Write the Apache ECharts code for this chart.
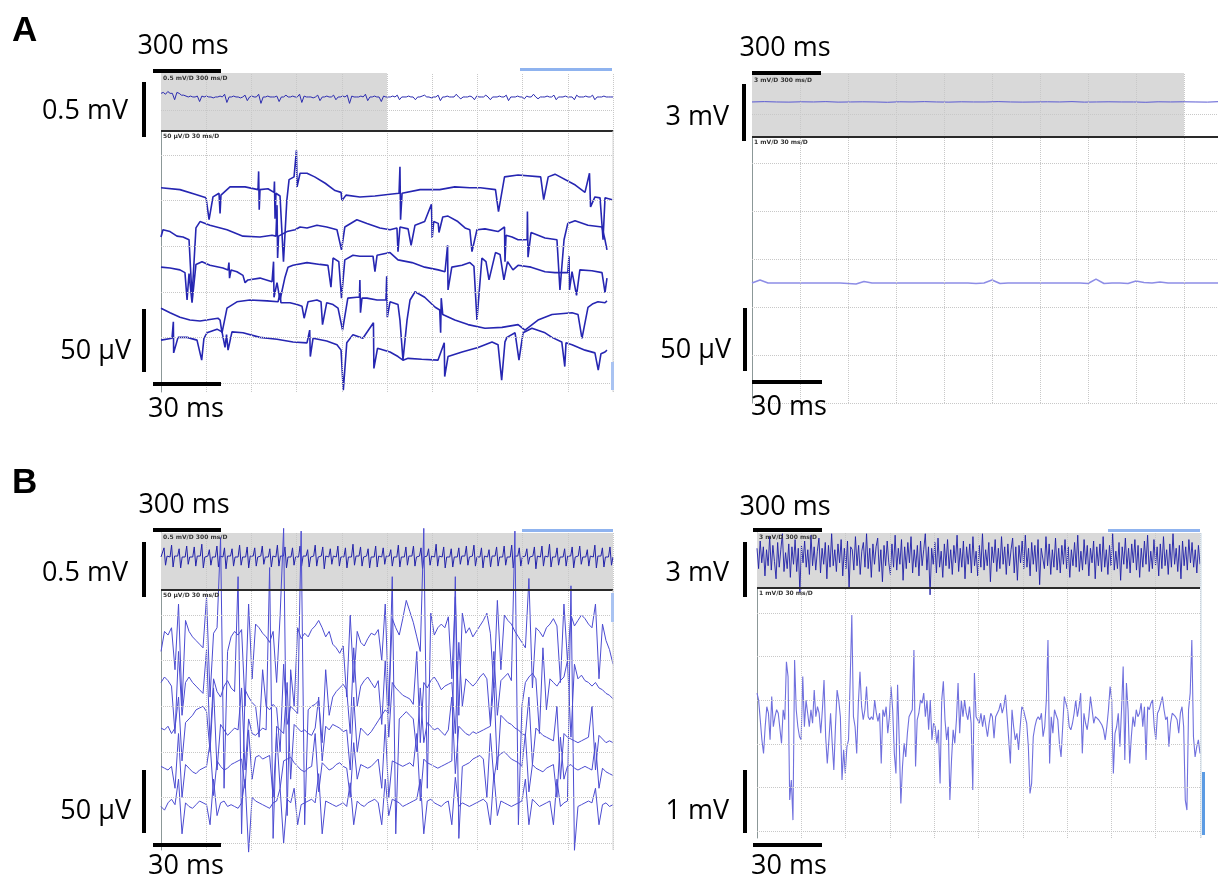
<!DOCTYPE html>
<html>
<head>
<meta charset="utf-8">
<script src="https://cdn.jsdelivr.net/npm/echarts@6/dist/echarts.min.js"></script>
<style>
html,body{margin:0;padding:0;background:#fff}
#fig{width:1218px;height:881px}
</style>
</head>
<body>
<div id="fig"></div>
<script>
// tick values (ms and µV / mV) used for the dotted screen grid
var stripMs = [300,600,900,1200,1500,1800,2100,2400,2700,3000];
var sweepMs = [30,60,90,120,150,180,210,240,270,300];
var uvTicks = [0,50,100,150,200,250];
var mvTicks = [0,1,2,3,4,5];

// A, left: overview strip (mV, evenly sampled over 3000 ms)
var stripAL = [0.04,0.05,0.03,0.06,0.04,0.04,-0.03,0.05,0.04,0.02,
0.02,0.01,0.0,0.01,0.0,0.0,0.01,-0.05,0.01,0.0,
0.01,0.0,0.0,-0.01,0.0,0.0,0.01,0.0,0.03,-0.06,
0.0,0.0,0.01,0.0,0.0,-0.01,0.0,0.02,-0.04,0.0,
0.01,0.0,0.0,0.03,-0.07,0.0,0.0,0.01,0.0,0.0,
0.0,0.01,-0.05,0.0,0.0,0.02,0.0,0.0,0.01,0.0,
0.0,0.03,-0.06,0.01,0.0,0.0,0.0,-0.01,0.0,0.02,
-0.04,0.0,0.0,0.01,0.0,0.0,0.02,-0.03,0.0,0.0,
0.01,0.0,0.02,-0.07,0.01,0.0,0.0,0.0,0.01,0.0,
0.03,-0.04,0.0,0.0,0.01,0.0,0.0,-0.05,0.01,0.0,
0.0,0.0,0.01,0.0,0.02,-0.03,0.0,0.0,0.0,0.01,
0.0,0.0,-0.03,0.0,0.0,0.01,0.02,0.0,0.0,-0.01,
0.0,0.0,0.02,-0.04,0.0,0.0,0.01,0.0,0.0,0.0,
0.03,0.0,-0.02,0.0,0.0,0.0,0.01,0.0,-0.03,0.01,
0.0,0.0,0.0,0.02,0.0,-0.03,0.0,0.0,0.0,0.01,
0.0,0.0,0.02,-0.04,0.0,0.0,0.0,0.01,0.0,0.0,
-0.02,0.01,0.0,0.0,0.03,0.0,-0.02,0.0,0.0,0.0,
0.01,0.0,0.0,0.02,-0.03,0.0,0.0,0.0,0.01,0.0,
0.0,0.0,-0.03,0.02,0.0,0.0,0.0,0.01,0.0,0.0,
0.02,-0.03,0.0,0.0,0.0,0.01,0.0,0.0,0.0,0.0];

// A, left: five stacked sweeps, [ms, µV]
var sweepA1 = [[0,214],[12.6,212],[22.6,207],[29.9,203],[31.9,179],[34.5,204],[38.5,208],[39.2,186],[39.8,206],[45.8,215],[55.8,215],[64.4,212],[64.8,232],[65.2,190],[65.7,212],[71,213],[75,209],[75.3,221],[75.7,180],[76.3,208],[79,205],[81.3,133],[83.5,200],[85,223],[88.3,226],[89.6,227],[89.9,255],[90.3,215],[92.3,230],[96.9,230],[102,226],[109,219],[115.5,211],[119.5,209],[120.1,200],[122.8,206],[132,204],[142,205],[152,207],[158,208],[158.6,237],[159,179],[160,208],[172,212],[185,212],[195,215],[205,214],[212,214],[222,212],[224,188],[228,226],[237,228],[252,226],[254,201],[257,226],[261.5,229],[275,217],[281.4,209],[284.4,230],[285.1,193],[288,204],[291.4,203],[293.4,157],[294.7,203],[299.5,201]];
var sweepA2 = [[0,160],[1.3,168],[6,166],[10.6,161],[14.6,160],[18.6,157],[20.6,94],[23.2,170],[25.9,177],[32.5,173],[43.8,168],[54.4,161],[65.7,160],[73.7,162],[76.3,161],[77,195],[77.4,137],[78,161],[83.6,166],[89,168],[92.3,171],[96.9,170],[103.5,173],[110,171],[116.8,168],[119.8,146],[122,171],[130,179],[136.7,175],[145.3,170],[152,168],[156.6,170],[157.3,144],[158.6,171],[164,169],[166,151],[168.6,173],[175,177],[179.5,196],[180,159],[181,177],[184,175],[184.5,165],[187,182],[190.5,183],[197,177],[201.8,170],[205,168],[206.4,144],[209.7,168],[215,169],[223.7,166],[228,171],[228.3,133],[229,162],[233,160],[237,157],[243,157],[243.2,188],[243.6,138],[245.6,165],[254.9,159],[262.8,157],[264.8,102],[267.5,157],[270,175],[274.8,178],[283.4,173],[292.7,171],[294.7,157],[296,146]];
var sweepA3 = [[0,127],[6,126],[12.6,124],[15.9,121],[17.3,91],[18.6,120],[20.6,88],[23.2,130],[27.2,133],[32.5,129],[41.1,126],[44.5,124],[45.1,132],[45.5,115],[46.5,124],[50.4,122],[54.4,118],[55.8,110],[57.7,113],[65.7,115],[73.7,111],[74.7,133],[75,94],[77,110],[79,91],[82.3,116],[84.3,127],[87.6,129],[96.9,132],[105.5,130],[110.8,129],[112.8,105],[114.2,137],[118,133],[119.8,93],[122,135],[127.4,140],[132,139],[140.7,139],[142,122],[143.4,140],[152,143],[157.3,135],[166.6,132],[175,127],[184,124],[188.5,122],[190.2,151],[190.5,102],[193,127],[199.8,129],[205,132],[207.7,128],[209.7,69],[213,137],[215.7,133],[217.7,113],[222,143],[225,141],[227.6,113],[230,133],[233.6,124],[237,129],[245.6,127],[254.9,122],[261.5,121],[270,121],[270.8,139],[271.1,102],[272.8,122],[275.8,96],[278,124],[286,123],[292.7,121],[294.7,99],[296,115]];
var sweepA4 = [[0,82],[6,77],[12.6,72],[19.2,69],[25.9,68],[37.8,71],[39.2,69],[40.5,55],[43.8,82],[50.4,89],[59,91],[70.4,90],[77.7,89],[79,99],[79.6,88],[85.6,88],[90.3,86],[93.6,84],[95,71],[97.6,89],[103.5,91],[106.2,89],[107.2,64],[110,88],[114.2,86],[117.5,82],[120.5,58],[124,93],[130,94],[131.7,94],[132,113],[132.4,77],[133.4,93],[136.7,93],[143.4,91],[149.3,91],[149.8,117],[150.2,72],[152,89],[157.3,86],[158.6,69],[160.6,25],[163.3,69],[165.3,91],[168.6,100],[175,94],[182,83],[185,80],[185.6,55],[186,93],[187,75],[195,69],[203.8,64],[215,60],[226.3,61],[237,64],[241.6,58],[250.2,69],[259.5,75],[272.8,77],[276.8,75],[279.4,49],[283.4,83],[286.7,87],[290,89],[294.7,88],[296,90]];
var sweepA5 = [[0,47],[7.3,49],[8.2,67],[8.4,33],[11.3,50],[17.3,50],[23.9,47],[25.2,45],[27,25],[28.5,49],[30.5,55],[37.2,59],[40.5,56],[42.5,39],[43.5,53],[44.5,36],[47.1,56],[54.4,55],[65.7,50],[77,48],[87.6,45],[96.9,44],[98.7,58],[99.1,29],[100.9,49],[110,46],[116.8,42],[119.5,36],[121,-8],[123.3,44],[127.4,53],[134,49],[141,66],[141.3,16],[143.7,38],[152,34],[157.3,29],[160.6,25],[164,27],[173,26],[183.8,25],[188,44],[188.3,7],[190.5,29],[199.8,34],[210.4,39],[219.7,45],[223.7,42],[226.1,3],[228.3,45],[229.6,50],[235,55],[237.6,25],[240.3,55],[246.2,60],[254.9,55],[259.5,50],[266,45],[268,18],[268.8,44],[272.8,42],[281.4,36],[288,33],[290.2,14],[292,32],[294.7,34],[296,36]];

// A, right: nearly flat strip (mV) and sweep (mV, every 5 ms)
var stripAR = [0,0.02,0,-0.01,0.01,0,0.02,-0.01,0,0.01,
0,-0.02,0.01,0,0.02,0,-0.01,0.01,0,0,
0.02,0,-0.01,0,0.01,0,0.02,-0.01,0,0.01,
0,0,-0.02,0.01,0,0.01,0,-0.01,0.02,0];
var sweepAR = [2.5,2.56,2.5,2.5,2.5,2.5,2.5,2.5,2.5,2.5,
2.5,2.5,2.49,2.48,2.53,2.5,2.5,2.5,2.5,2.5,
2.5,2.5,2.5,2.5,2.5,2.5,2.5,2.5,2.49,2.5,
2.56,2.49,2.5,2.5,2.5,2.5,2.5,2.5,2.5,2.5,
2.5,2.5,2.49,2.58,2.49,2.5,2.5,2.49,2.54,2.51,
2.5,2.52,2.5,2.5,2.5,2.5,2.5,2.5,2.5,2.5,2.5];

// B, left: strip (mV) and five sweeps (µV), evenly sampled
var stripBL = [0,0.01,0.1,-0.09,0.01,0,0,0.13,-0.11,0.01,
0,0.01,0.09,-0.12,0,0.01,0,0.12,-0.08,0,
0.01,0,0.11,-0.1,0.01,0,0.01,0.14,-0.12,0,
0,0.01,0.08,-0.09,0,0.01,0,0.12,-0.11,0.01,
0,0,0.1,-0.13,0.01,0,0.01,0.09,-0.1,0,
0.01,0,0.13,-0.09,0,0.01,0,0.11,-0.12,0.01,
0,0.01,0.1,-0.1,0,0,0.01,0.12,-0.08,0,
0.01,0,0.09,-0.11,0.01,0,0,0.13,-0.1,0.01,
0,0.01,0.11,-0.12,0,0.01,0,0.1,-0.09,0,
0.01,0,0.12,-0.1,0.01,0,0.01,0.08,-0.11,0,
0,0.01,0.13,-0.1,0,0,0.01,0.11,-0.13,0.01,
0,0,0.09,-0.08,0.01,0,0,0.12,-0.1,0,
0.01,0,0.1,-0.12,0,0.01,0,0.14,-0.09,0.01,
0,0.01,0.11,-0.1,0,0,0.01,0.09,-0.12,0,
0.01,0,0.12,-0.11,0.01,0,0,0.1,-0.08,0.01,
0,0.01,0.08,-0.1,0,0.01,0,0.13,-0.11,0,
0.01,0,0.11,-0.09,0.01,0,0.01,0.12,-0.1,0,
0,0.01,0.1,-0.13,0,0,0.01,0.09,-0.09,0.01,
0,0,0.14,-0.1,0.01,0,0,0.11,-0.12,0,
0.01,0,0.09,-0.11,0,0.01,0,0.1,-0.08,0.01,
0,0.01,0.12,-0.09,0,0,0.01,0.13,-0.1,0,
0.01,0,0.1,-0.12,0.01,0,0,0.08,-0.11,0.01,
0,0.01,0.11,-0.1,0,0.01,0,0.12,-0.09,0,
0.01,0,0.13,-0.12,0.01,0,0.01,0.1,-0.1,0,
0,0.01,0.09,-0.08,0,0,0.01,0.11,-0.13,0.01,
0,0,0.12,-0.1,0.01,0,0,0.14,-0.11,0,
0.01,0,0.1,-0.09,0,0.01,0,0.09,-0.1,0.01,
0,0.01,0.11,-0.12,0,0,0.01,0.12,-0.08,0,
0.01,0,0.08,-0.1,0.01,0,0,0.13,-0.12,0.01,
0,0.01,0.1,-0.11,0,0.01,0,0.11,-0.09,0];
var sweepB1 = [210,232,228,236,190,262,150,244,232,226,
222,218,214,270,160,230,236,335,60,210,
226,232,228,234,150,262,180,240,236,230,
226,220,232,176,250,345,30,190,150,236,
224,230,226,234,238,244,236,226,232,218,
214,208,216,160,250,176,232,220,216,224,
230,228,234,200,262,150,246,236,228,246,
266,254,242,226,210,345,60,252,228,236,
240,236,248,180,270,140,252,230,236,226,
232,238,244,252,230,170,266,190,250,244,
240,232,226,220,214,290,170,236,232,226,
236,240,246,238,176,262,200,250,238,244,
250,246,240,236,262,180,240,222,212,196];
var sweepB2 = [176,182,178,172,120,210,140,176,182,176,
172,168,164,212,110,180,166,160,172,178,
170,166,292,10,168,160,154,150,116,190,
150,146,152,148,100,196,130,150,146,142,
342,20,146,150,152,156,110,190,140,160,
166,170,174,168,120,214,150,172,178,182,
176,170,178,130,200,116,176,170,166,162,
160,158,152,210,110,176,170,178,182,176,
168,172,174,176,120,220,150,180,176,172,
176,182,186,180,130,210,140,178,182,186,
178,342,20,150,176,182,186,180,120,214,
146,180,176,172,178,182,200,116,196,180,
184,178,176,172,176,170,168,164,162,158];
var sweepB3 = [126,124,128,120,126,160,90,132,136,140,
146,148,150,144,100,170,80,130,124,118,
122,126,124,170,80,136,120,118,122,126,
124,302,5,128,124,120,176,70,130,126,
122,124,120,118,126,160,90,128,124,130,
128,126,122,124,80,160,100,126,122,118,
122,128,134,140,146,142,292,10,136,140,
144,140,136,100,170,110,132,128,124,126,
122,118,124,160,76,128,124,120,118,122,
120,122,124,126,128,176,80,140,136,132,
130,126,124,120,118,160,86,126,122,118,
116,114,112,150,70,120,116,114,112,110,
112,114,116,150,80,118,114,110,112,110];
var sweepB4 = [84,82,80,84,60,120,50,86,82,78,
76,80,82,84,110,52,90,84,80,82,
86,88,90,92,60,124,70,94,96,92,
94,96,50,120,60,90,92,94,88,84,
80,78,82,84,120,56,88,84,80,82,
86,88,84,82,50,110,70,86,84,82,
84,88,92,60,130,50,90,88,86,84,
86,88,84,120,46,92,88,86,84,82,
84,86,88,90,292,5,84,86,88,92,
94,96,92,50,120,70,94,98,100,96,
92,90,88,84,120,56,86,82,80,78,
82,84,86,50,116,70,84,86,82,80,
82,84,82,80,110,60,82,78,76,74];
var sweepB5 = [40,36,44,48,42,70,10,44,40,38,
42,46,44,42,20,70,30,44,46,40,
42,40,38,44,70,-10,50,46,44,42,
40,38,44,46,60,0,48,44,60,20,
42,44,46,48,44,76,10,46,44,42,
40,42,44,40,66,20,46,42,40,44,
46,48,44,20,70,30,48,46,44,40,
42,44,46,48,70,10,46,48,44,42,
40,44,46,20,72,40,44,42,40,42,
44,46,48,44,20,76,30,46,44,42,
40,42,44,46,70,20,48,44,40,42,
44,46,20,70,40,44,46,282,-8,40,
42,44,46,44,60,20,42,44,40,42];

// B, right: dense strip (mV) and single sweep (mV), evenly sampled
var stripBR = [0.6,-0.8,1.1,-0.4,0.7,-1.3,0.5,-0.6,1.4,-0.9,
0.8,-0.3,-1.5,1.0,-0.7,0.5,1.6,-1.0,0.3,-0.8,
0.9,-1.4,0.7,-0.5,1.2,-1.0,0.6,-2.4,0.8,-0.4,
1.1,-0.7,0.5,-1.2,1.5,-0.6,0.7,-0.9,0.4,1.3,
-1.1,0.6,-0.5,1.0,-1.5,0.8,-0.7,1.6,-0.6,0.5,
-1.0,0.9,-0.4,1.2,-1.3,0.6,-0.8,1.1,-2.1,0.7,
0.5,-0.9,1.4,-0.6,0.8,-1.2,0.4,1.0,-0.7,1.6,
-0.8,0.6,-1.4,0.9,-0.5,0.7,1.3,-1.0,0.5,-1.7,
0.8,-0.6,1.1,-0.4,-1.2,0.9,-0.7,1.5,-0.9,0.6,
-0.5,1.2,-1.6,0.7,-0.8,1.0,-0.4,1.4,-1.1,0.5,
-0.7,0.8,-1.3,1.1,-0.6,0.5,1.6,-0.9,0.7,-2.6,
0.6,-0.5,1.0,-1.1,1.3,-0.7,0.4,-1.4,0.9,-0.6,
1.2,-0.8,0.5,-1.2,0.8,-0.4,1.5,-1.0,0.6,-0.7,
1.1,-1.5,0.7,-0.5,0.9,-1.1,1.4,-0.6,0.4,-1.3,
0.8,-0.7,1.6,-0.9,0.5,-0.6,1.0,-1.7,0.7,-0.4,
1.2,-1.0,0.6,-0.8,1.4,-0.5,0.7,-1.2,0.9,-0.6,
0.5,1.3,-1.1,0.7,-1.6,0.8,-0.4,1.1,-0.8,1.5,
-0.7,0.6,-1.3,1.0,-0.5,0.8,-1.0,1.2,-1.9,0.6,
0.7,-0.8,1.4,-0.6,0.9,-1.2,0.5,-0.7,1.3,-0.9,
0.6,-1.1,0.8,-0.5,1.2,-0.8,0.7,-1.4,0.5,-0.6,
1.0,-0.7,1.5,-1.0,0.4,-0.9,1.2,-0.5,0.8,-1.3,
0.6,-0.4,1.1,-1.5,0.7,-0.6,0.9,-1.0,1.4,-0.7,
0.5,-1.2,0.8,-0.6,1.6,-0.9,0.4,-0.8,1.0,-1.6,
0.7,-0.5,1.3,-0.8,0.6,-1.1,0.9,-0.4,1.2,-0.9,
0.8,-1.4,0.6,-0.7,1.1,-0.5,1.5,-1.0,0.4,-0.8,
1.2,-0.6,0.7,-1.3,0.9,-0.8,1.4,-0.6,0.5,-1.2,
0.9,-0.7,1.6,-0.5,0.6,-1.0,0.8,-1.5,1.1,-0.6,
0.7,-0.9,1.2,-0.4,1.0,-0.7,0.5,-1.1,0.8,-0.5];
var sweepBR = [3.16,3.00,2.55,2.09,1.78,2.39,2.85,2.70,2.09,3.08,2.39,2.62,2.78,2.70,2.66,2.01,2.78,2.55,3.88,3.54,
0.71,1.17,0.25,3.92,2.78,2.39,2.16,2.09,3.54,2.39,3.00,2.70,2.39,2.78,2.47,3.23,2.62,2.85,2.70,2.24,
2.78,3.46,2.16,1.55,2.09,2.70,2.01,1.40,2.39,3.23,3.00,2.62,1.17,1.86,1.32,1.93,2.09,3.46,4.95,2.62,
2.39,1.78,2.93,3.65,2.85,2.55,2.78,3.31,2.62,2.55,2.62,2.55,3.00,2.70,2.51,2.70,1.55,2.78,2.62,2.85,
2.24,2.62,3.31,2.78,1.78,1.32,3.35,2.09,0.63,1.48,2.01,1.70,2.24,2.62,2.70,2.78,4.15,1.48,2.55,2.70,
3.00,2.93,3.16,2.62,3.00,2.32,3.00,2.09,2.47,2.39,2.01,2.32,1.09,3.00,3.43,2.55,2.09,2.39,0.71,1.63,
2.32,2.01,2.55,3.39,2.24,3.00,2.62,3.00,2.70,2.55,2.85,2.47,0.94,3.62,2.62,
2.62,2.47,2.70,2.39,2.66,2.70,2.16,2.47,2.70,2.62,2.13,2.62,2.70,2.78,2.93,2.70,2.85,3.12,2.62,2.09,
1.55,2.78,2.39,2.09,2.24,1.86,2.39,2.85,2.78,2.62,2.47,1.93,0.86,1.09,2.16,2.39,2.55,2.62,2.55,2.70,
2.16,2.39,3.00,4.38,1.55,2.62,2.24,2.78,2.66,2.55,2.01,1.70,2.39,3.08,2.93,2.78,2.39,2.32,2.47,2.70,
3.00,2.62,2.85,3.16,1.78,2.70,2.47,2.32,2.62,3.08,2.78,2.47,2.62,2.62,2.55,2.55,2.43,2.32,2.09,2.39,
2.78,3.31,3.00,1.32,2.24,2.39,2.70,1.93,2.78,3.77,1.63,3.39,2.78,1.55,2.16,2.62,2.39,2.78,2.62,2.70,
2.93,2.39,2.85,1.63,2.85,2.78,2.93,3.00,2.39,2.09,2.70,2.78,2.93,3.08,2.78,2.55,2.62,1.93,2.47,2.70,
2.66,2.62,2.55,2.24,2.70,2.85,2.39,0.71,0.48,2.78,3.16,4.38,2.16,1.70,1.93,2.09,1.78];

// samples -> [time, value] pairs spread over the sweep length
function even(values, span) {
  var dt = span / (values.length - 1);
  return values.map(function (v, i) { return [i * dt, v]; });
}

var myChart = echarts.init(document.getElementById('fig'));

// 0 A strip, 1 A sweeps, 2 A' strip, 3 A' sweep, 4 B strip, 5 B sweeps, 6 B' strip, 7 B' sweep
var boxes = [
  [161, 73, 452, 58], [161, 131, 452, 261],
  [752, 73, 480, 64], [752, 137, 480, 266],
  [161, 533, 452, 57], [161, 590, 452, 260],
  [757, 533, 443, 55], [757, 588, 443, 250]
];
var yRange = [[-0.373, 0.263], [-9.9, 276.3], [-2.19, 1.81], [0, 5.54],
              [-0.362, 0.263], [-7.7, 277.4], [-2.13, 1.65], [-0.16, 5.57]];
var levels = [[-0.15], uvTicks, [-0.75], mvTicks, [], uvTicks, [], mvTicks];

var grids = [], xAxes = [], yAxes = [], series = [];
boxes.forEach(function (b, i) {
  var strip = i % 2 === 0;
  grids.push({left: b[0], top: b[1], width: b[2], height: b[3], outerBoundsMode: 'none', containLabel: false});
  xAxes.push({type: 'value', gridIndex: i, min: 0, max: strip ? 3000 : 300,
    axisLine: {show: false}, axisTick: {show: false}, axisLabel: {show: false}, splitLine: {show: false}});
  yAxes.push({type: 'value', gridIndex: i, min: yRange[i][0], max: yRange[i][1],
    axisLine: {show: true, lineStyle: {color: '#8c9898', width: 1}},
    axisTick: {show: false}, axisLabel: {show: false}, splitLine: {show: false}});
  var xs = strip ? stripMs : sweepMs;
  series.push({
    type: 'line', xAxisIndex: i, yAxisIndex: i, data: [[0, yRange[i][0]]],
    symbol: 'none', lineStyle: {width: 0}, silent: true, z: 2,
    markLine: {
      silent: true, symbol: ['none', 'none'], label: {show: false}, animation: false,
      lineStyle: {type: 'dotted', color: '#c8c8c8', width: 1},
      data: xs.map(function (v) { return {xAxis: v}; })
        .concat(levels[i].map(function (v) { return {yAxis: v}; }))
    }
  });
});

// grey overview windows
[[0, 0, 1500], [2, 0, 2700], [4, 0, 3000], [6, 0, 3000]].forEach(function (s) {
  series.push({
    type: 'line', xAxisIndex: s[0], yAxisIndex: s[0], data: [], z: 1, silent: true,
    markArea: {silent: true, animation: false, itemStyle: {color: '#d9d9d9'},
      data: [[{xAxis: s[1]}, {xAxis: s[2]}]]}
  });
});

function trace(gi, data, color, width) {
  series.push({
    type: 'line', xAxisIndex: gi, yAxisIndex: gi, data: data, symbol: 'none',
    clip: false, silent: true, z: 3, lineStyle: {color: color, width: width}
  });
}

trace(0, even(stripAL, 3000), '#2b2bb0', 1);
[sweepA1, sweepA2, sweepA3, sweepA4, sweepA5].forEach(function (s) { trace(1, s, '#2626b2', 1.6); });
trace(2, even(stripAR, 3000), '#5a5ad2', 1);
trace(3, even(sweepAR, 300), '#8d8de6', 1.6);
trace(4, even(stripBL, 3000), '#2222aa', 1);
[sweepB1, sweepB2, sweepB3, sweepB4, sweepB5].forEach(function (s) { trace(5, even(s, 300), '#4c4cd2', 1); });
trace(6, even(stripBR, 3000), '#1e1ea8', 0.9);
trace(7, even(sweepBR, 300), '#7070de', 1.1);

// scale bars, labels and screen furniture
var g = [];
function bar(x1, y1, x2, y2) {
  g.push({type: 'line', z: 10, shape: {x1: x1, y1: y1, x2: x2, y2: y2}, style: {stroke: '#000', lineWidth: 4}});
}
function rule(x1, y1, x2, y2, c, w) {
  g.push({type: 'line', z: 9, shape: {x1: x1, y1: y1, x2: x2, y2: y2}, style: {stroke: c, lineWidth: w}});
}
function label(x, y, t, align) {
  g.push({type: 'text', z: 10, x: x, y: y, style: {text: t, fill: '#000', fontSize: 27,
    fontFamily: 'Open Sans', align: align, verticalAlign: 'middle'}});
}
function tiny(x, y, t) {
  g.push({type: 'text', z: 10, x: x, y: y, style: {text: t, fill: '#333', fontSize: 6,
    fontWeight: 'bold', fontFamily: 'DejaVu Sans', verticalAlign: 'middle'}});
}
function patch(x, y, w, h, c) {
  g.push({type: 'rect', z: 9, shape: {x: x, y: y, width: w, height: h}, style: {fill: c}});
}

g.push({type: 'text', z: 10, x: 12, y: 31, style: {text: 'A', fill: '#000', fontSize: 35, fontWeight: 'bold',
  fontFamily: 'Liberation Sans', verticalAlign: 'middle'}});
g.push({type: 'text', z: 10, x: 12, y: 483, style: {text: 'B', fill: '#000', fontSize: 35, fontWeight: 'bold',
  fontFamily: 'Liberation Sans', verticalAlign: 'middle'}});

// A left
label(183, 46, '300 ms', 'center'); bar(153, 71, 221, 71);
label(128, 111, '0.5 mV', 'right'); bar(144, 82, 144, 137);
label(131, 351, '50 µV', 'right'); bar(144, 309, 144, 372);
label(186, 409, '30 ms', 'center'); bar(153, 384, 221, 384);
rule(161, 131, 613, 131, '#2a2a2a', 2); rule(613, 131, 613, 392, '#d4d4d4', 1);
patch(520, 68, 92, 3, '#8fb3ef'); patch(611, 362, 3, 28, '#a9c3f2');
tiny(163, 78, '0.5 mV/D 300 ms/D'); tiny(163, 136, '50 µV/D 30 ms/D');

// A right
label(785, 48, '300 ms', 'center'); bar(752, 73, 821, 73);
label(729, 117, '3 mV', 'right'); bar(744, 84, 744, 141);
label(731, 350, '50 µV', 'right'); bar(745, 308, 745, 371);
label(789, 407, '30 ms', 'center'); bar(752, 382, 822, 382);
rule(752, 137, 1218, 137, '#2a2a2a', 2);
tiny(754, 80, '3 mV/D 300 ms/D'); tiny(754, 142, '1 mV/D 30 ms/D');

// B left
label(184, 505, '300 ms', 'center'); bar(153, 530, 221, 530);
label(128, 573, '0.5 mV', 'right'); bar(144, 542, 144, 597);
label(131, 811, '50 µV', 'right'); bar(144, 770, 144, 833);
label(186, 866, '30 ms', 'center'); bar(153, 845, 221, 845);
rule(161, 590, 613, 590, '#2a2a2a', 2); rule(613, 590, 613, 850, '#d4d4d4', 1);
patch(522, 529, 91, 3, '#8fb3ef'); patch(611, 593, 3, 29, '#a9c3f2');
tiny(163, 537, '0.5 mV/D 300 ms/D'); tiny(163, 595, '50 µV/D 30 ms/D');

// B right
label(785, 507, '300 ms', 'center'); bar(753, 530, 822, 530);
label(729, 573, '3 mV', 'right'); bar(745, 542, 745, 597);
label(729, 811, '1 mV', 'right'); bar(745, 770, 745, 833);
label(789, 866, '30 ms', 'center'); bar(753, 845, 822, 845);
rule(757, 588, 1200, 588, '#2a2a2a', 2); rule(1201, 533, 1201, 838, '#c9d9e6', 1);
patch(1108, 529, 92, 3, '#8fb3ef'); patch(1202, 772, 3, 63, '#5b9be3');
tiny(759, 537, '3 mV/D 300 ms/D'); tiny(759, 593, '1 mV/D 30 ms/D');

option = {
  animation: false,
  backgroundColor: '#fff',
  grid: grids,
  xAxis: xAxes,
  yAxis: yAxes,
  series: series,
  graphic: g
};
myChart.setOption(option);
</script>
</body>
</html>
